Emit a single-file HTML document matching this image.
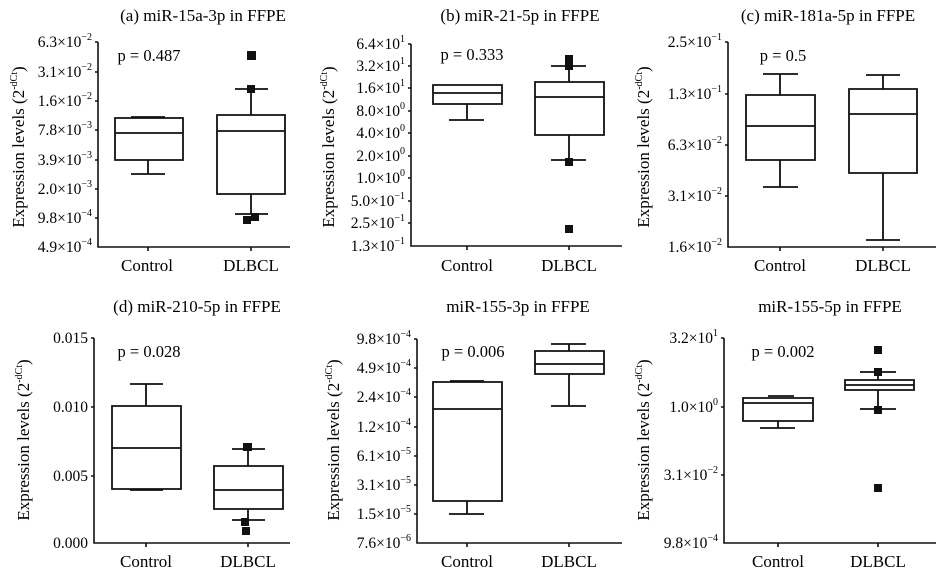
<!DOCTYPE html>
<html><head><meta charset="utf-8"><style>
body{margin:0;background:#fff}
svg{display:block;font-family:"Liberation Serif",serif}
.t{font-size:17px;text-anchor:middle}
.k{font-size:15.5px;text-anchor:end}
.c{font-size:17px;text-anchor:middle}
.p{font-size:16.5px;text-anchor:middle}
.y{font-size:17px;text-anchor:middle}
.s{font-size:10px}
line,rect,path{stroke:#111;fill:none}
.ax{stroke-width:1.6}
.b{stroke-width:1.8}
.o{fill:#111;stroke:none}
</style></head><body>
<svg width="937" height="571" viewBox="0 0 937 571">
<!-- Panel a -->
<text class="t" x="203" y="21">(a) miR-15a-3p in FFPE</text>
<text class="p" x="149" y="61">p = 0.487</text>
<text class="y" transform="translate(24,147) rotate(-90)">Expression levels (2<tspan class="s" dy="-7">-dCt</tspan><tspan dy="7">)</tspan></text>
<path class="ax" d="M98,42V247H290M95,42H98M95,72H98M95,101H98M95,130H98M95,160H98M95,189H98M95,218H98M148,247v4M251,247v4"/>
<g class="k">
<text x="92" y="47">6.3×10<tspan class="s" dy="-7">−2</tspan></text>
<text x="92" y="77">3.1×10<tspan class="s" dy="-7">−2</tspan></text>
<text x="92" y="106">1.6×10<tspan class="s" dy="-7">−2</tspan></text>
<text x="92" y="135">7.8×10<tspan class="s" dy="-7">−3</tspan></text>
<text x="92" y="165">3.9×10<tspan class="s" dy="-7">−3</tspan></text>
<text x="92" y="194">2.0×10<tspan class="s" dy="-7">−3</tspan></text>
<text x="92" y="223">9.8×10<tspan class="s" dy="-7">−4</tspan></text>
<text x="92" y="252">4.9×10<tspan class="s" dy="-7">−4</tspan></text>
</g>
<text class="c" x="147" y="271">Control</text><text class="c" x="251" y="271">DLBCL</text>
<path class="b" d="M115,118H183V160H115ZM115,133H183M131,117H165M148,160V174M131,174H165"/>
<path class="b" d="M217,115H285V194H217ZM217,131H285M251,115V89M235,89H268M251,194V214M235,214H268"/>
<rect class="o" x="247" y="51" width="9" height="9"/><rect class="o" x="247" y="85" width="8" height="8"/><rect class="o" x="243" y="216" width="8" height="8"/><rect class="o" x="251" y="213" width="8" height="8"/>

<!-- Panel b -->
<text class="t" x="520" y="21">(b) miR-21-5p in FFPE</text>
<text class="p" x="472" y="60">p = 0.333</text>
<text class="y" transform="translate(334,147) rotate(-90)">Expression levels (2<tspan class="s" dy="-7">-dCt</tspan><tspan dy="7">)</tspan></text>
<path class="ax" d="M411,44V246H622M408,44H411M408,66H411M408,88H411M408,111H411M408,133H411M408,156H411M408,178H411M408,201H411M408,223H411M467,246v4M569,246v4"/>
<g class="k">
<text x="405" y="49">6.4×10<tspan class="s" dy="-7">1</tspan></text>
<text x="405" y="71">3.2×10<tspan class="s" dy="-7">1</tspan></text>
<text x="405" y="93">1.6×10<tspan class="s" dy="-7">1</tspan></text>
<text x="405" y="116">8.0×10<tspan class="s" dy="-7">0</tspan></text>
<text x="405" y="138">4.0×10<tspan class="s" dy="-7">0</tspan></text>
<text x="405" y="161">2.0×10<tspan class="s" dy="-7">0</tspan></text>
<text x="405" y="183">1.0×10<tspan class="s" dy="-7">0</tspan></text>
<text x="405" y="206">5.0×10<tspan class="s" dy="-7">−1</tspan></text>
<text x="405" y="228">2.5×10<tspan class="s" dy="-7">−1</tspan></text>
<text x="405" y="251">1.3×10<tspan class="s" dy="-7">−1</tspan></text>
</g>
<text class="c" x="467" y="271">Control</text><text class="c" x="569" y="271">DLBCL</text>
<path class="b" d="M433,85H502V104H433ZM433,93H502M467,104V120M449,120H484"/>
<path class="b" d="M535,82H604V135H535ZM535,97H604M569,82V66M551,66H586M569,135V160M551,160H586"/>
<rect class="o" x="565" y="55" width="8" height="8"/><rect class="o" x="565" y="63" width="8" height="7"/><rect class="o" x="565" y="158" width="8" height="8"/><rect class="o" x="565" y="225" width="8" height="8"/>

<!-- Panel c -->
<text class="t" x="828" y="21">(c) miR-181a-5p in FFPE</text>
<text class="p" x="783" y="61">p = 0.5</text>
<text class="y" transform="translate(649,147) rotate(-90)">Expression levels (2<tspan class="s" dy="-7">-dCt</tspan><tspan dy="7">)</tspan></text>
<path class="ax" d="M728,42V247H936M725,42H728M725,94H728M725,145H728M725,196H728M780,247v4M883,247v4"/>
<g class="k">
<text x="722" y="47">2.5×10<tspan class="s" dy="-7">−1</tspan></text>
<text x="722" y="99">1.3×10<tspan class="s" dy="-7">−1</tspan></text>
<text x="722" y="150">6.3×10<tspan class="s" dy="-7">−2</tspan></text>
<text x="722" y="201">3.1×10<tspan class="s" dy="-7">−2</tspan></text>
<text x="722" y="252">1.6×10<tspan class="s" dy="-7">−2</tspan></text>
</g>
<text class="c" x="780" y="271">Control</text><text class="c" x="883" y="271">DLBCL</text>
<path class="b" d="M746,95H815V160H746ZM746,126H815M780,95V74M763,74H798M780,160V187M763,187H798"/>
<path class="b" d="M849,89H917V173H849ZM849,114H917M883,89V75M866,75H900M883,173V240M866,240H900"/>

<!-- Panel d -->
<text class="t" x="197" y="312">(d) miR-210-5p in FFPE</text>
<text class="p" x="149" y="357">p = 0.028</text>
<text class="y" transform="translate(29,440) rotate(-90)">Expression levels (2<tspan class="s" dy="-7">-dCt</tspan><tspan dy="7">)</tspan></text>
<path class="ax" d="M94,338V543H290M91,338H94M91,407H94M91,476H94M146,543v4M248,543v4"/>
<g class="k">
<text x="88" y="343">0.015</text>
<text x="88" y="412">0.010</text>
<text x="88" y="481">0.005</text>
<text x="88" y="548">0.000</text>
</g>
<text class="c" x="146" y="567">Control</text><text class="c" x="248" y="567">DLBCL</text>
<path class="b" d="M112,406H181V489H112ZM112,448H181M146,406V384M130,384H163M130,490H163"/>
<path class="b" d="M214,466H283V509H214ZM214,490H283M248,466V449M232,449H265M248,509V520M232,520H265"/>
<rect class="o" x="243" y="443" width="9" height="8"/><rect class="o" x="241" y="518" width="8" height="8"/><rect class="o" x="242" y="527" width="8" height="8"/>

<!-- Panel e -->
<text class="t" x="518" y="312">miR-155-3p in FFPE</text>
<text class="p" x="473" y="357">p = 0.006</text>
<text class="y" transform="translate(339,440) rotate(-90)">Expression levels (2<tspan class="s" dy="-7">-dCt</tspan><tspan dy="7">)</tspan></text>
<path class="ax" d="M417,339V543H622M414,339H417M414,368H417M414,397H417M414,427H417M414,456H417M414,485H417M414,514H417M467,543v4M569,543v4"/>
<g class="k">
<text x="411" y="344">9.8×10<tspan class="s" dy="-7">−4</tspan></text>
<text x="411" y="373">4.9×10<tspan class="s" dy="-7">−4</tspan></text>
<text x="411" y="402">2.4×10<tspan class="s" dy="-7">−4</tspan></text>
<text x="411" y="432">1.2×10<tspan class="s" dy="-7">−4</tspan></text>
<text x="411" y="461">6.1×10<tspan class="s" dy="-7">−5</tspan></text>
<text x="411" y="490">3.1×10<tspan class="s" dy="-7">−5</tspan></text>
<text x="411" y="519">1.5×10<tspan class="s" dy="-7">−5</tspan></text>
<text x="411" y="548">7.6×10<tspan class="s" dy="-7">−6</tspan></text>
</g>
<text class="c" x="467" y="567">Control</text><text class="c" x="569" y="567">DLBCL</text>
<path class="b" d="M433,382H502V501H433ZM433,409H502M450,381H484M467,501V514M449,514H484"/>
<path class="b" d="M535,351H604V374H535ZM535,364H604M569,351V344M551,344H586M569,374V406M551,406H586"/>

<!-- Panel f -->
<text class="t" x="830" y="312">miR-155-5p in FFPE</text>
<text class="p" x="783" y="357">p = 0.002</text>
<text class="y" transform="translate(649,440) rotate(-90)">Expression levels (2<tspan class="s" dy="-7">-dCt</tspan><tspan dy="7">)</tspan></text>
<path class="ax" d="M724,338V543H936M721,338H724M721,407H724M721,475H724M778,543v4M878,543v4"/>
<g class="k">
<text x="718" y="343">3.2×10<tspan class="s" dy="-7">1</tspan></text>
<text x="718" y="412">1.0×10<tspan class="s" dy="-7">0</tspan></text>
<text x="718" y="480">3.1×10<tspan class="s" dy="-7">−2</tspan></text>
<text x="718" y="548">9.8×10<tspan class="s" dy="-7">−4</tspan></text>
</g>
<text class="c" x="778" y="567">Control</text><text class="c" x="878" y="567">DLBCL</text>
<path class="b" d="M743,398H813V421H743ZM743,403H813M768,396H794M778,421V428M760,428H795"/>
<path class="b" d="M845,380H914V390H845ZM845,385H914M878,380V372M860,372H896M878,390V409M860,409H896"/>
<rect class="o" x="874" y="346" width="8" height="8"/><rect class="o" x="874" y="368" width="8" height="8"/><rect class="o" x="874" y="406" width="8" height="8"/><rect class="o" x="874" y="484" width="8" height="8"/>
</svg>
</body></html>
